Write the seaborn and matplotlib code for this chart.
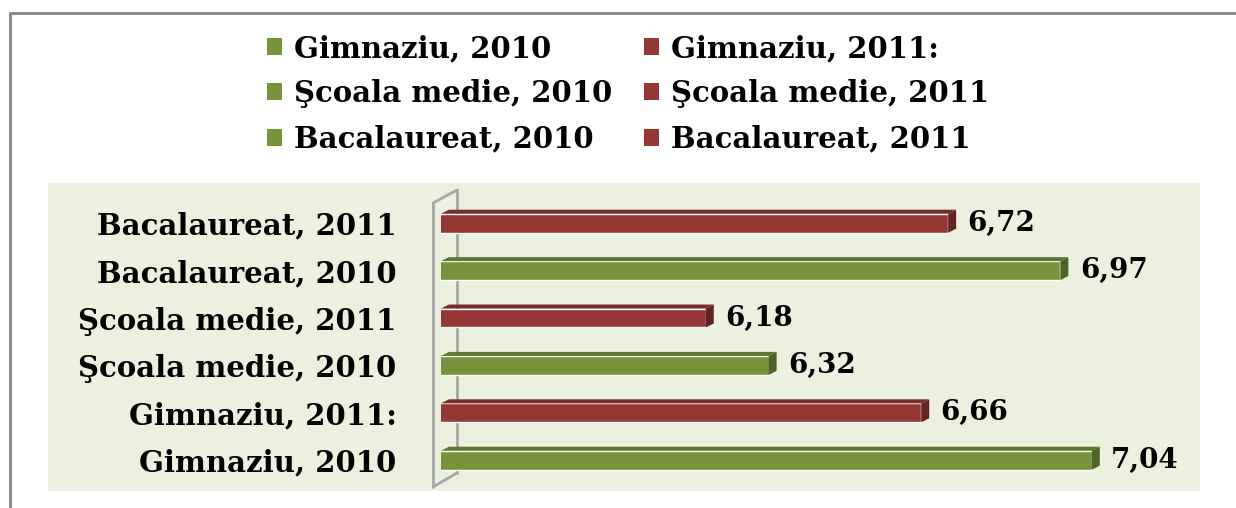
import numpy as np
import pandas as pd
import matplotlib
matplotlib.use("Agg")
import matplotlib.pyplot as plt
from matplotlib.patches import Polygon, Rectangle, Patch
from matplotlib.lines import Line2D
import seaborn as sns

# data, top to bottom as in the chart
categories = ["Bacalaureat, 2011", "Bacalaureat, 2010",
              "Şcoala medie, 2011", "Şcoala medie, 2010",
              "Gimnaziu, 2011:", "Gimnaziu, 2010"]
years = ["2011", "2010", "2011", "2010", "2011", "2010"]
values = [6.72, 6.97, 6.18, 6.32, 6.66, 7.04]

legend_labels = ["Gimnaziu, 2010", "Şcoala medie, 2010", "Bacalaureat, 2010",
                 "Gimnaziu, 2011:", "Şcoala medie, 2011", "Bacalaureat, 2011"]
legend_years = ["2010", "2010", "2010", "2011", "2011", "2011"]

year_order = ["2010", "2011"]
front = {"2010": "#77933C", "2011": "#953735"}
top_col = {"2010": "#5F7630", "2011": "#772C2A"}
side_col = {"2010": "#4F6228", "2011": "#632523"}

df = pd.DataFrame({"Category": categories, "Year": years, "Value": values})

sns.set_style("white")
plt.rcParams["font.family"] = ["DejaVu Serif"]
plt.rcParams["font.weight"] = "bold"
plt.rcParams["text.color"] = "black"
plt.rcParams["ytick.color"] = "black"

W, H = 1236, 508
fig = plt.figure(figsize=(W / 100, H / 100), dpi=100)

def fx(px):
    return px / W

def fy(py):
    return 1 - py / H

# axes placed in pixel terms
ax_left, ax_right = 441, 1200
ax_top, ax_bot = 199.5, 483.9
ax = fig.add_axes([fx(ax_left), fy(ax_bot), fx(ax_right - ax_left), (ax_bot - ax_top) / H])
ax.patch.set_visible(False)

sns.barplot(data=df, x="Value", y="Category", hue="Year", hue_order=year_order,
            palette=front, dodge=False, width=0.40, saturation=1, errorbar=None,
            legend=False, ax=ax, zorder=3)

xmin = 5.59
px_per_x = 448.8
ax.set_xlim(xmin, xmin + (ax_right - ax_left) / px_per_x)
ax.set_ylim(len(categories) - 0.5, -0.5)
ax.set_xlabel("")
ax.set_ylabel("")
ax.set_xticks([])
for s in ax.spines.values():
    s.set_visible(False)
ax.tick_params(axis="y", length=0, pad=32, labelsize=21, labelcolor="black")
for t in ax.get_yticklabels():
    t.set_fontweight("bold")

# pseudo 3D faces on each bar
px_per_y = (ax_bot - ax_top) / len(categories)
dx = 8 / px_per_x
dy = 4 / px_per_y
for cont, yr in zip(ax.containers, year_order):
    for bar in cont:
        w = bar.get_width()
        if not np.isfinite(w) or w == 0:
            continue
        x1 = bar.get_x() + w
        yt = bar.get_y()
        yb = yt + bar.get_height()
        x0 = xmin
        ax.add_patch(Polygon([(x0, yt), (x1, yt), (x1 + dx, yt - dy), (x0 + dx, yt - dy)],
                             closed=True, facecolor=top_col[yr], edgecolor="none", zorder=3))
        ax.add_patch(Polygon([(x1, yt), (x1 + dx, yt - dy), (x1 + dx, yb - dy), (x1, yb)],
                             closed=True, facecolor=side_col[yr], edgecolor="none", zorder=3))
    ax.bar_label(cont, labels=[f"{v:.2f}".replace(".", ",") if np.isfinite(v) and v else ""
                               for v in cont.datavalues],
                 padding=14, fontsize=20, fontweight="bold", color="black")

# panel background
fig.add_artist(Rectangle((fx(48), fy(491)), fx(1200 - 48), (491 - 183) / H,
                         transform=fig.transFigure, facecolor="#EBF1DE",
                         edgecolor="none", zorder=-3))

# the thin "wall" at the value axis
wall = dict(color="#A6A6A6", lw=2, transform=fig.transFigure, zorder=-2)
fig.add_artist(Line2D([fx(433), fx(433)], [fy(203), fy(487)], **wall))
fig.add_artist(Line2D([fx(457), fx(457)], [fy(190), fy(473)], **wall))
fig.add_artist(Line2D([fx(433), fx(457)], [fy(203), fy(190)], **wall))
fig.add_artist(Line2D([fx(433), fx(457)], [fy(487), fy(473)], **wall))

# outer frame (top and left edges visible)
frame = dict(color="#8C8C8C", lw=2.2, transform=fig.transFigure, zorder=5)
fig.add_artist(Line2D([fx(10), 1], [fy(13), fy(13)], **frame))
fig.add_artist(Line2D([fx(10), fx(10)], [fy(13), 0], **frame))

# legend
handles = [Patch(facecolor=front[y], edgecolor="none") for y in legend_years]
fig.legend(handles, legend_labels, ncol=2, frameon=False,
           loc="upper left", bbox_to_anchor=(fx(267), fy(34)),
           prop={"family": "DejaVu Serif", "weight": "bold", "size": 21},
           handlelength=0.52, handleheight=0.52, handletextpad=0.4,
           columnspacing=1.1, labelspacing=0.56, borderpad=0, borderaxespad=0)

fig.savefig("out.png", dpi=100)
